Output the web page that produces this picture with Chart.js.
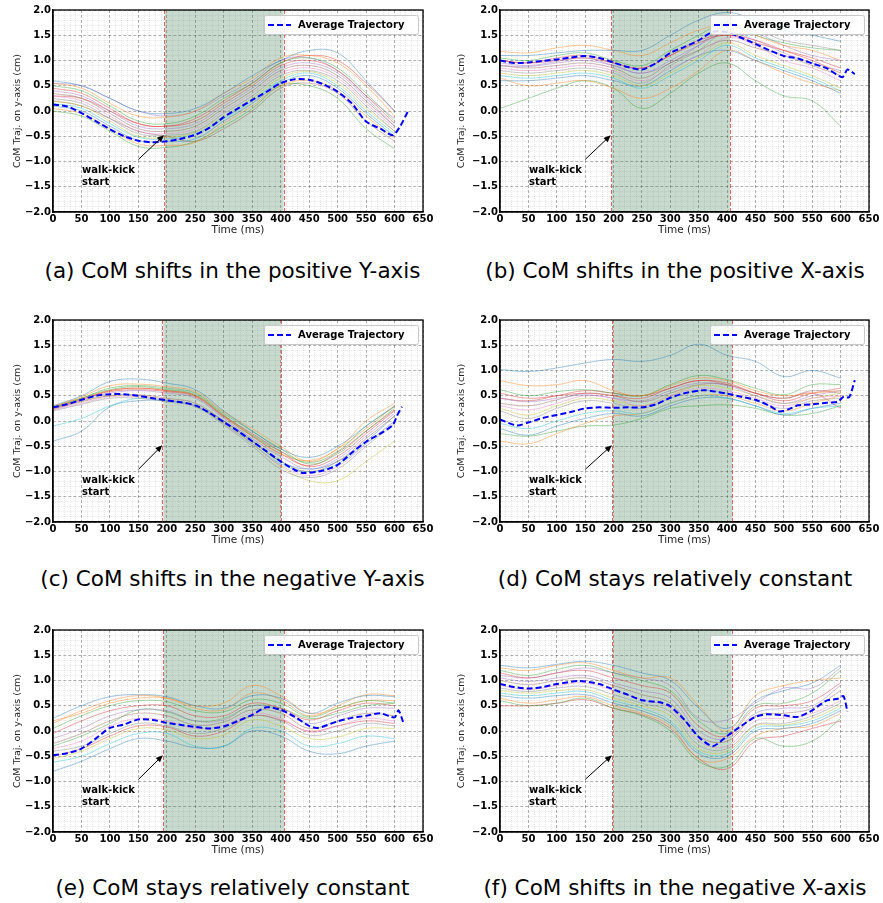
<!DOCTYPE html>
<html>
<head>
<meta charset="utf-8">
<script src="https://cdn.jsdelivr.net/npm/chart.js@4.4.1/dist/chart.umd.min.js"></script>
<style>
  body { margin: 0; background: #fff; width: 883px; height: 903px; position: relative; overflow: hidden; }
  .panel { position: absolute; }
  .cap { position: absolute; font: 21.5px 'DejaVu Sans', sans-serif; line-height: 26px; text-align: center; white-space: nowrap; color: #000; }
</style>
</head>
<body>
<div class="panel" style="left:0;top:0"><canvas id="chartA" width="440" height="240"></canvas></div>
<div class="panel" style="left:440px;top:0"><canvas id="chartB" width="443" height="240"></canvas></div>
<div class="panel" style="left:0;top:310px"><canvas id="chartC" width="440" height="240"></canvas></div>
<div class="panel" style="left:440px;top:310px"><canvas id="chartD" width="443" height="240"></canvas></div>
<div class="panel" style="left:0;top:620px"><canvas id="chartE" width="440" height="240"></canvas></div>
<div class="panel" style="left:440px;top:620px"><canvas id="chartF" width="443" height="240"></canvas></div>

<div class="cap" style="left:0;top:258px;width:465px">(a) CoM shifts in the positive Y-axis</div>
<div class="cap" style="left:443px;top:258px;width:464px">(b) CoM shifts in the positive X-axis</div>
<div class="cap" style="left:0;top:566px;width:465px">(c) CoM shifts in the negative Y-axis</div>
<div class="cap" style="left:443px;top:566px;width:464px">(d) CoM stays relatively constant</div>
<div class="cap" style="left:0;top:875px;width:465px">(e) CoM stays relatively constant</div>
<div class="cap" style="left:443px;top:875px;width:464px">(f) CoM shifts in the negative X-axis</div>

<script>
// sample times of the individual trials (ms)
var timeSteps = [0, 50, 100, 150, 200, 250, 300, 350, 400, 450, 500, 550, 600];

// (a) positive Y
var avgTimeA = [0,25,50,75,100,125,150,175,200,225,250,275,300,325,350,375,400,425,450,475,500,525,550,575,597,610,623];
var avgA = [0.13,0.09,-0.04,-0.2,-0.36,-0.5,-0.59,-0.62,-0.6,-0.55,-0.47,-0.33,-0.12,0.05,0.22,0.38,0.55,0.63,0.62,0.53,0.38,0.15,-0.21,-0.35,-0.48,-0.3,-0.02];
var linesA = [
  [0.6, 0.5, 0.25, 0.0, -0.05, 0.05, 0.35, 0.7, 1.0, 1.2, 1.15, 0.6, 0.0],
  [0.55, 0.45, 0.15, -0.1, -0.12, 0.0, 0.35, 0.65, 1.05, 1.1, 0.95, 0.5, -0.1],
  [0.5, 0.4, 0.1, -0.2, -0.25, -0.1, 0.25, 0.55, 0.95, 1.05, 0.85, 0.35, -0.2],
  [0.45, 0.35, 0.05, -0.25, -0.3, -0.2, 0.15, 0.5, 0.9, 1.0, 0.8, 0.3, -0.25],
  [0.4, 0.3, 0.0, -0.3, -0.35, -0.25, 0.1, 0.45, 0.85, 0.95, 0.75, 0.25, -0.3],
  [0.35, 0.25, -0.05, -0.35, -0.4, -0.3, 0.05, 0.4, 0.8, 0.9, 0.7, 0.2, -0.3],
  [0.3, 0.2, -0.1, -0.4, -0.45, -0.35, 0.0, 0.35, 0.75, 0.85, 0.65, 0.15, -0.35],
  [0.25, 0.15, -0.15, -0.45, -0.48, -0.4, -0.05, 0.3, 0.7, 0.8, 0.6, 0.1, -0.4],
  [0.2, 0.1, -0.2, -0.5, -0.52, -0.42, -0.1, 0.25, 0.65, 0.78, 0.55, 0.05, -0.4],
  [0.15, 0.05, -0.25, -0.52, -0.55, -0.45, -0.15, 0.2, 0.6, 0.75, 0.5, 0.0, -0.45],
  [0.1, 0.0, -0.3, -0.58, -0.6, -0.55, -0.2, 0.15, 0.55, 0.7, 0.45, -0.05, -0.5],
  [0.05, -0.05, -0.35, -0.65, -0.68, -0.62, -0.25, 0.1, 0.5, 0.6, 0.4, -0.1, -0.55],
  [0.0, -0.1, -0.4, -0.7, -0.72, -0.6, -0.3, 0.05, 0.5, 0.5, 0.25, -0.35, -0.75],
  [0.3, 0.25, 0.0, -0.25, -0.3, -0.15, 0.2, 0.55, 0.95, 1.1, 1.0, 0.55, 0.0],
  [0.55, 0.5, 0.25, 0.0, -0.1, 0.0, 0.3, 0.6, 1.0, 1.05, 0.8, 0.3, -0.15],
  [0.2, 0.1, -0.15, -0.4, -0.5, -0.6, -0.35, 0.0, 0.45, 0.55, 0.35, -0.2, -0.6]
];
var kickA = [195, 405];

// (b) positive X
var avgTimeB = [0,25,50,75,100,125,150,175,200,225,250,275,300,325,350,375,400,425,450,475,500,525,550,575,603,612,625];
var avgB = [1.0,0.95,0.96,0.99,1.02,1.06,1.09,1.05,0.96,0.87,0.82,0.95,1.15,1.27,1.4,1.57,1.56,1.45,1.33,1.2,1.09,1.04,0.94,0.85,0.67,0.82,0.73];
var linesB = [
  [1.1, 1.1, 1.15, 1.2, 1.2, 1.2, 1.5, 1.8, 1.95, 1.8, 1.6, 1.5, 1.38],
  [1.18, 1.15, 1.25, 1.3, 1.2, 1.1, 1.35, 1.6, 1.7, 1.5, 1.3, 1.2, 1.0],
  [1.05, 1.0, 1.1, 1.15, 1.0, 0.9, 1.2, 1.5, 1.75, 1.5, 1.35, 1.25, 1.2],
  [1.0, 0.95, 1.05, 1.1, 0.95, 0.85, 1.1, 1.4, 1.5, 1.4, 1.2, 1.0, 0.75],
  [0.95, 0.9, 0.98, 1.05, 0.9, 0.75, 1.0, 1.3, 1.55, 1.4, 1.15, 0.95, 0.8],
  [0.9, 0.85, 0.9, 0.95, 0.85, 0.65, 0.95, 1.2, 1.4, 1.25, 1.1, 0.9, 0.7],
  [0.85, 0.8, 0.85, 0.9, 0.8, 0.6, 0.85, 1.1, 1.45, 1.3, 1.0, 0.85, 0.6],
  [0.8, 0.75, 0.8, 0.85, 0.75, 0.55, 0.9, 1.2, 1.6, 1.6, 1.4, 1.3, 1.2],
  [0.75, 0.7, 0.75, 0.8, 0.7, 0.5, 0.75, 1.05, 1.35, 1.1, 0.9, 0.7, 0.45],
  [0.7, 0.65, 0.7, 0.75, 0.65, 0.45, 0.7, 1.0, 1.3, 1.05, 0.85, 0.65, 0.4],
  [0.6, 0.6, 0.65, 0.7, 0.6, 0.5, 0.8, 1.1, 1.2, 1.0, 0.8, 0.6, 0.35],
  [0.65, 0.5, 0.55, 0.6, 0.45, 0.25, 0.45, 0.8, 1.2, 1.0, 0.75, 0.55, 0.4],
  [0.05, 0.25, 0.45, 0.6, 0.45, 0.05, 0.35, 0.75, 0.95, 0.6, 0.3, 0.2, -0.3],
  [1.0, 0.95, 1.0, 1.05, 0.95, 0.85, 1.1, 1.35, 1.5, 1.35, 1.2, 1.05, 0.85],
  [0.9, 0.88, 0.95, 1.0, 0.9, 0.75, 0.95, 1.3, 1.7, 1.55, 1.3, 1.1, 1.0]
];
var kickB = [195, 405];

// (c) negative Y
var avgTimeC = [0,25,50,75,100,125,150,175,200,225,250,275,300,325,350,375,400,425,440,475,500,525,550,575,597,605,613];
var avgC = [0.27,0.33,0.42,0.5,0.53,0.53,0.5,0.45,0.41,0.37,0.31,0.16,-0.02,-0.2,-0.4,-0.6,-0.8,-0.97,-1.03,-0.98,-0.87,-0.63,-0.41,-0.25,-0.08,0.12,0.28];
var linesC = [
  [0.3, 0.5, 0.78, 0.83, 0.75, 0.62, 0.2, -0.2, -0.55, -0.72, -0.5, -0.1, 0.3],
  [0.28, 0.48, 0.7, 0.73, 0.68, 0.58, 0.18, -0.15, -0.5, -0.8, -0.55, -0.15, 0.3],
  [0.27, 0.45, 0.65, 0.7, 0.65, 0.55, 0.15, -0.2, -0.55, -0.85, -0.65, -0.2, 0.25],
  [0.25, 0.42, 0.6, 0.65, 0.6, 0.5, 0.1, -0.25, -0.6, -0.9, -0.7, -0.25, 0.2],
  [0.25, 0.4, 0.55, 0.6, 0.55, 0.45, 0.05, -0.35, -0.7, -0.95, -0.75, -0.3, 0.15],
  [0.23, 0.38, 0.5, 0.52, 0.45, 0.35, 0.0, -0.4, -0.8, -1.0, -0.8, -0.35, 0.1],
  [0.22, 0.35, 0.48, 0.48, 0.42, 0.3, -0.05, -0.45, -0.88, -1.08, -0.9, -0.45, 0.0],
  [0.2, 0.33, 0.45, 0.45, 0.38, 0.28, -0.08, -0.5, -0.95, -1.12, -0.95, -0.5, -0.05],
  [0.25, 0.4, 0.5, 0.5, 0.42, 0.3, -0.05, -0.45, -0.9, -1.18, -1.18, -0.8, -0.4],
  [-0.1, 0.05, 0.3, 0.45, 0.4, 0.3, -0.05, -0.45, -0.85, -1.0, -0.85, -0.45, 0.0],
  [-0.4, -0.2, 0.28, 0.4, 0.4, 0.3, 0.0, -0.4, -0.8, -0.95, -0.8, -0.4, 0.1],
  [0.3, 0.45, 0.6, 0.65, 0.6, 0.5, 0.1, -0.3, -0.65, -0.78, -0.55, 0.0, 0.35],
  [0.27, 0.45, 0.62, 0.68, 0.62, 0.52, 0.12, -0.28, -0.6, -0.82, -0.6, -0.1, 0.28],
  [0.26, 0.43, 0.58, 0.62, 0.58, 0.48, 0.08, -0.3, -0.65, -0.88, -0.62, -0.2, 0.22]
];
var kickC = [192, 401];

// (d) constant, x-axis
var avgTimeD = [0,30,50,75,100,125,150,175,200,225,250,275,300,325,360,400,425,450,475,492,510,525,550,575,595,605,615,625];
var avgD = [0.03,-0.09,-0.03,0.06,0.12,0.18,0.25,0.27,0.26,0.27,0.27,0.33,0.46,0.55,0.61,0.54,0.48,0.42,0.3,0.19,0.24,0.31,0.33,0.36,0.38,0.48,0.47,0.81];
var linesD = [
  [1.02, 0.98, 1.05, 1.15, 1.22, 1.18, 1.3, 1.52, 1.3, 1.18, 0.88, 1.0, 0.85],
  [0.8, 0.7, 0.72, 0.8, 0.6, 0.5, 0.7, 0.85, 0.8, 0.6, 0.5, 0.55, 0.6],
  [0.62, 0.5, 0.58, 0.62, 0.55, 0.5, 0.72, 0.9, 0.82, 0.65, 0.52, 0.72, 0.72],
  [0.55, 0.45, 0.5, 0.55, 0.5, 0.45, 0.65, 0.8, 0.75, 0.55, 0.4, 0.55, 0.65],
  [0.45, 0.38, 0.45, 0.52, 0.45, 0.4, 0.6, 0.75, 0.7, 0.5, 0.35, 0.5, 0.6],
  [0.35, 0.3, 0.42, 0.55, 0.5, 0.38, 0.55, 0.72, 0.72, 0.55, 0.45, 0.6, 0.55],
  [0.3, 0.22, 0.35, 0.5, 0.45, 0.3, 0.5, 0.65, 0.6, 0.45, 0.3, 0.45, 0.5],
  [0.2, 0.05, 0.25, 0.4, 0.35, 0.25, 0.45, 0.6, 0.55, 0.4, 0.25, 0.4, 0.45],
  [0.25, 0.12, 0.3, 0.45, 0.4, 0.3, 0.5, 0.7, 0.65, 0.5, 0.35, 0.45, 0.55],
  [-0.05, -0.15, 0.0, 0.15, 0.2, 0.15, 0.35, 0.5, 0.45, 0.3, 0.15, 0.25, 0.3],
  [-0.15, -0.28, -0.1, 0.05, 0.15, 0.1, 0.3, 0.45, 0.45, 0.3, 0.12, 0.25, 0.35],
  [-0.4, -0.45, -0.25, -0.05, 0.1, 0.15, 0.35, 0.5, 0.5, 0.35, 0.2, 0.35, 0.5],
  [-0.25, -0.3, -0.2, -0.1, -0.08, 0.05, 0.25, 0.3, 0.32, 0.25, 0.12, 0.15, 0.3],
  [0.45, 0.4, 0.5, 0.6, 0.55, 0.5, 0.65, 0.8, 0.72, 0.55, 0.45, 0.55, 0.25]
];
var kickD = [197, 409];

// (e) constant, y-axis
var avgTimeE = [0,25,50,75,100,125,150,175,200,225,250,275,300,325,350,375,400,425,450,465,500,525,550,575,600,607,615];
var avgE = [-0.48,-0.44,-0.35,-0.15,0.06,0.13,0.23,0.22,0.16,0.12,0.08,0.05,0.09,0.2,0.32,0.47,0.42,0.28,0.1,0.06,0.19,0.26,0.3,0.35,0.27,0.41,0.18];
var linesE = [
  [0.25, 0.5, 0.68, 0.72, 0.68, 0.5, 0.45, 0.7, 0.65, 0.35, 0.55, 0.7, 0.68],
  [0.15, 0.4, 0.6, 0.7, 0.65, 0.45, 0.42, 0.75, 0.62, 0.3, 0.5, 0.72, 0.7],
  [0.05, 0.3, 0.5, 0.6, 0.58, 0.4, 0.38, 0.62, 0.55, 0.28, 0.45, 0.6, 0.55],
  [-0.05, 0.2, 0.4, 0.5, 0.5, 0.3, 0.3, 0.55, 0.45, 0.22, 0.4, 0.55, 0.5],
  [-0.15, 0.05, 0.3, 0.42, 0.4, 0.2, 0.22, 0.5, 0.4, 0.15, 0.3, 0.45, 0.45],
  [-0.25, -0.05, 0.2, 0.35, 0.3, 0.12, 0.18, 0.42, 0.35, 0.05, 0.2, 0.35, 0.3],
  [-0.35, -0.2, 0.1, 0.25, 0.2, 0.05, 0.12, 0.35, 0.25, -0.02, 0.1, 0.25, 0.2],
  [-0.4, -0.3, -0.05, 0.15, 0.1, -0.05, 0.05, 0.3, 0.2, -0.08, 0.0, 0.15, 0.1],
  [-0.55, -0.4, -0.15, 0.05, 0.02, -0.15, -0.08, 0.22, 0.1, -0.15, -0.12, 0.05, 0.05],
  [-0.62, -0.5, -0.25, -0.05, -0.05, -0.3, -0.3, 0.05, 0.0, -0.3, -0.25, -0.1, -0.15],
  [-0.8, -0.6, -0.35, -0.15, -0.2, -0.33, -0.3, 0.0, -0.1, -0.4, -0.45, -0.3, -0.2],
  [0.2, 0.35, 0.55, 0.65, 0.65, 0.5, 0.55, 0.9, 0.7, 0.35, 0.45, 0.6, 0.6],
  [-0.3, -0.1, 0.15, 0.42, 0.38, 0.2, 0.25, 0.5, 0.45, 0.25, 0.35, 0.5, 0.55],
  [-0.5, -0.35, -0.1, 0.1, 0.08, -0.1, 0.0, 0.3, 0.22, 0.0, 0.1, 0.2, 0.15]
];
var kickE = [193, 406];

// (f) negative X
var avgTimeF = [0,25,50,75,100,140,175,200,225,250,285,300,325,350,375,400,425,450,470,500,525,550,575,595,605,612];
var avgF = [0.93,0.87,0.84,0.87,0.93,0.99,0.93,0.82,0.72,0.61,0.56,0.49,0.22,-0.12,-0.3,-0.1,0.1,0.28,0.33,0.31,0.28,0.41,0.6,0.64,0.69,0.38];
var linesF = [
  [1.3, 1.25, 1.32, 1.38, 1.3, 1.15, 1.0, 0.45, 0.05, 0.6, 0.8, 0.95, 1.3],
  [1.25, 1.2, 1.3, 1.35, 1.2, 1.05, 1.05, 0.5, 0.0, 0.7, 0.9, 1.0, 1.05],
  [1.2, 1.1, 1.22, 1.3, 1.15, 1.0, 0.8, 0.2, -0.05, 0.5, 0.55, 0.75, 1.2],
  [1.15, 1.05, 1.15, 1.2, 1.05, 0.9, 0.75, 0.1, -0.1, 0.45, 0.5, 0.6, 0.95],
  [1.05, 0.98, 1.05, 1.1, 0.95, 0.8, 0.65, 0.0, -0.15, 0.35, 0.45, 0.5, 0.9],
  [1.0, 0.92, 1.0, 1.05, 0.9, 0.72, 0.55, -0.1, -0.2, 0.3, 0.35, 0.45, 0.8],
  [0.9, 0.82, 0.9, 0.95, 0.8, 0.62, 0.45, -0.2, -0.3, 0.2, 0.25, 0.35, 0.6],
  [0.85, 0.78, 0.85, 0.88, 0.72, 0.55, 0.38, -0.28, -0.35, 0.12, 0.15, 0.3, 0.55],
  [0.8, 0.75, 0.8, 0.82, 0.65, 0.5, 0.3, -0.35, -0.4, 0.1, 0.12, 0.25, 0.5],
  [0.75, 0.7, 0.75, 0.78, 0.6, 0.45, 0.2, -0.4, -0.45, 0.05, 0.1, 0.2, 0.45],
  [0.7, 0.65, 0.7, 0.72, 0.55, 0.4, 0.15, -0.45, -0.5, 0.0, 0.05, 0.15, 0.4],
  [0.65, 0.55, 0.62, 0.68, 0.5, 0.35, 0.1, -0.55, -0.55, -0.1, 0.05, 0.1, 0.35],
  [0.6, 0.5, 0.55, 0.65, 0.45, 0.3, 0.0, -0.6, -0.7, -0.15, -0.3, -0.2, 0.25],
  [0.5, 0.5, 0.55, 0.62, 0.45, 0.32, 0.05, -0.55, -0.75, -0.2, -0.1, 0.05, 0.2],
  [1.1, 1.05, 1.15, 1.25, 1.15, 1.05, 0.9, 0.25, 0.22, 0.55, 0.85, 0.85, 1.25]
];
var kickF = [197, 408];

var tab10 = ['#1f77b4','#ff7f0e','#2ca02c','#d62728','#9467bd','#8c564b','#e377c2','#7f7f7f','#bcbd22','#17becf'];

function fade(hex, a) {
  var n = parseInt(hex.slice(1), 16);
  return 'rgba(' + (n >> 16) + ',' + ((n >> 8) & 255) + ',' + (n & 255) + ',' + a + ')';
}
function near(v, step) {
  return Math.abs(v / step - Math.round(v / step)) < 1e-6;
}
function fmt(v) {
  var s = v.toFixed(1);
  return s.charAt(0) === '-' ? '\u2212' + s.slice(1) : s;
}

// shading, kick lines, arrow, legend box and the frame
var kickPlugin = {
  id: 'kick',
  beforeDatasetsDraw: function(chart, args, opts) {
    var ctx = chart.ctx, a = chart.chartArea, xs = chart.scales.x;
    var x0 = xs.getPixelForValue(opts.start), x1 = xs.getPixelForValue(opts.end);
    ctx.save();
    ctx.fillStyle = 'rgba(35,107,59,0.25)';
    ctx.fillRect(x0 + 1, a.top, x1 - x0 - 1, a.bottom - a.top);
    ctx.strokeStyle = 'rgba(235,70,70,0.85)';
    ctx.lineWidth = 1;
    ctx.setLineDash([4, 2]);
    [x0, x1].forEach(function(x) {
      ctx.beginPath();
      ctx.moveTo(Math.round(x) + 0.5, a.top);
      ctx.lineTo(Math.round(x) + 0.5, a.bottom);
      ctx.stroke();
    });
    ctx.restore();
  },
  afterDatasetsDraw: function(chart, args, opts) {
    var ctx = chart.ctx, a = chart.chartArea, xs = chart.scales.x, ys = chart.scales.y;
    ctx.save();
    // arrow
    var tx = xs.getPixelForValue(150), ty = ys.getPixelForValue(-0.96);
    var hx = xs.getPixelForValue(opts.start), hy = ys.getPixelForValue(-0.48);
    var ang = Math.atan2(hy - ty, hx - tx);
    ctx.strokeStyle = '#000';
    ctx.fillStyle = '#000';
    ctx.lineWidth = 1;
    ctx.beginPath();
    ctx.moveTo(tx, ty);
    ctx.lineTo(hx - 4 * Math.cos(ang), hy - 4 * Math.sin(ang));
    ctx.stroke();
    ctx.beginPath();
    ctx.moveTo(hx, hy);
    ctx.lineTo(hx - 7 * Math.cos(ang) + 3 * Math.sin(ang), hy - 7 * Math.sin(ang) - 3 * Math.cos(ang));
    ctx.lineTo(hx - 7 * Math.cos(ang) - 3 * Math.sin(ang), hy - 7 * Math.sin(ang) + 3 * Math.cos(ang));
    ctx.closePath();
    ctx.fill();
    ctx.font = 'bold 10px "DejaVu Sans"';
    ctx.textAlign = 'left';
    ctx.textBaseline = 'middle';
    var lx = xs.getPixelForValue(51);
    ctx.fillText('walk-kick', lx, ys.getPixelForValue(-1.18));
    ctx.fillText('start', lx, ys.getPixelForValue(-1.42));
    // legend
    var bw = 154, bh = 19, bx = a.right - 5 - bw, by = a.top + 5;
    ctx.fillStyle = 'rgba(255,255,255,0.85)';
    ctx.strokeStyle = '#c8c8c8';
    ctx.beginPath();
    ctx.roundRect(bx + 0.5, by + 0.5, bw, bh, 2);
    ctx.fill();
    ctx.stroke();
    ctx.strokeStyle = '#0000ff';
    ctx.lineWidth = 2;
    ctx.setLineDash([6, 3]);
    ctx.beginPath();
    ctx.moveTo(bx + 4, by + bh / 2 + 0.5);
    ctx.lineTo(bx + 27, by + bh / 2 + 0.5);
    ctx.stroke();
    ctx.setLineDash([]);
    ctx.fillStyle = '#000';
    ctx.fillText('Average Trajectory', bx + 34, by + bh / 2 + 1);
    // frame
    ctx.strokeStyle = '#000';
    ctx.lineWidth = 1.3;
    ctx.strokeRect(a.left, a.top, a.right - a.left, a.bottom - a.top);
    ctx.restore();
  }
};

var panels = [
  { id: 'chartA', yW: 53, padR: 17, titlePad: 12, axis: 'y', avgT: avgTimeA, avg: avgA, lines: linesA, kick: kickA },
  { id: 'chartB', yW: 60, padR: 14, titlePad: 16, axis: 'x', avgT: avgTimeB, avg: avgB, lines: linesB, kick: kickB },
  { id: 'chartC', yW: 53, padR: 17, titlePad: 12, axis: 'y', avgT: avgTimeC, avg: avgC, lines: linesC, kick: kickC },
  { id: 'chartD', yW: 60, padR: 14, titlePad: 16, axis: 'x', avgT: avgTimeD, avg: avgD, lines: linesD, kick: kickD },
  { id: 'chartE', yW: 53, padR: 17, titlePad: 12, axis: 'y', avgT: avgTimeE, avg: avgE, lines: linesE, kick: kickE },
  { id: 'chartF', yW: 60, padR: 14, titlePad: 16, axis: 'x', avgT: avgTimeF, avg: avgF, lines: linesF, kick: kickF }
];

var tickFont = { family: 'DejaVu Sans', size: 10, weight: 'bold' };

panels.forEach(function(p) {
  var datasets = [{
    label: 'Average Trajectory',
    data: p.avgT.map(function(t, i) { return { x: t, y: p.avg[i] }; }),
    borderColor: '#0000ff',
    borderWidth: 2,
    borderDash: [6, 3],
    pointRadius: 0,
    tension: 0.25,
    fill: false
  }];
  p.lines.forEach(function(vals, k) {
    datasets.push({
      label: 'trial ' + (k + 1),
      data: timeSteps.map(function(t, i) { return { x: t, y: vals[i] }; }),
      borderColor: fade(tab10[k % 10], 0.42),
      borderWidth: 1,
      pointRadius: 0,
      tension: 0.4,
      fill: false
    });
  });

  new Chart(document.getElementById(p.id), {
    type: 'line',
    data: { datasets: datasets },
    plugins: [kickPlugin],
    options: {
      responsive: false,
      animation: false,
      events: [],
      layout: { padding: { top: 10, right: p.padR, left: 0, bottom: 0 } },
      plugins: {
        legend: { display: false },
        tooltip: { enabled: false },
        kick: { start: p.kick[0], end: p.kick[1] }
      },
      scales: {
        x: {
          type: 'linear',
          min: 0,
          max: 650,
          afterFit: function(s) { s.height = 28; },
          ticks: {
            stepSize: 10,
            autoSkip: false,
            maxRotation: 0,
            minRotation: 0,
            padding: 1,
            color: '#000',
            font: tickFont,
            callback: function(v) { return near(v, 50) ? String(Math.round(v)) : ''; }
          },
          grid: {
            drawTicks: false,
            color: function(c) { return c.tick && near(c.tick.value, 50) ? 'rgba(0,0,0,0.3)' : 'rgba(0,0,0,0.09)'; }
          },
          border: {
            color: '#000',
            width: 1.3,
            dash: function(c) { if (!c.tick) return []; return near(c.tick.value, 50) ? [3, 2] : [1, 1]; }
          },
          title: {
            display: true,
            text: 'Time (ms)',
            color: '#222',
            font: { family: 'DejaVu Sans', size: 10.5 },
            padding: { top: 0, bottom: 3 }
          }
        },
        y: {
          min: -2,
          max: 2,
          afterFit: function(s) { s.width = p.yW; },
          ticks: {
            stepSize: 0.1,
            autoSkip: false,
            padding: 2,
            color: '#000',
            font: tickFont,
            callback: function(v) { return near(v, 0.5) ? fmt(v) : ''; }
          },
          grid: {
            drawTicks: false,
            color: function(c) { return c.tick && near(c.tick.value, 0.5) ? 'rgba(0,0,0,0.3)' : 'rgba(0,0,0,0.09)'; }
          },
          border: {
            color: '#000',
            width: 1.3,
            dash: function(c) { if (!c.tick) return []; return near(c.tick.value, 0.5) ? [3, 2] : [1, 1]; }
          },
          title: {
            display: true,
            text: 'CoM Traj. on ' + p.axis + '-axis (cm)',
            color: '#222',
            font: { family: 'DejaVu Sans', size: 9.5 },
            padding: { top: p.titlePad, bottom: 0 }
          }
        }
      }
    }
  });
});
</script>
</body>
</html>
